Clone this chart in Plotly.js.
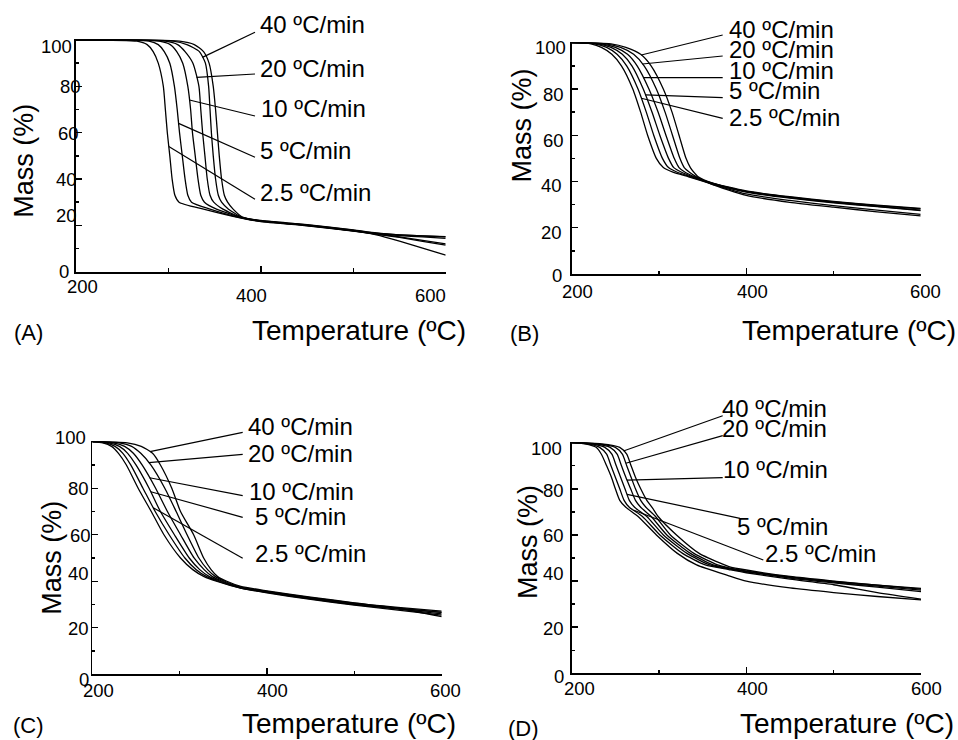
<!DOCTYPE html>
<html>
<head>
<meta charset="utf-8">
<script src="https://cdn.plot.ly/plotly-3.0.1.min.js"></script>
<style>html,body{margin:0;padding:0;background:#fff;}</style>
</head>
<body>
<div id="chart" style="width:958px;height:740px;"></div>
<script>
// ---------------- data ----------------
const rateLabels = ['2.5 ºC/min', '5 ºC/min', '10 ºC/min', '20 ºC/min', '40 ºC/min'];
const massTicks = [0, 20, 40, 60, 80, 100];
const tempTicks = [200, 400, 600];
const panelTags = ['(A)', '(B)', '(C)', '(D)'];

// Panel A: temperature (ºC) at which each curve reaches the mass levels, then tail mass at fixed temperatures
const levelsA = [100, 99.5, 98, 95, 90, 80, 70, 60, 50, 40, 33, 30, 27];
const stepA1 = [200, 266, 277, 283.5, 289, 294.5, 296.7, 298.8, 301.5, 304, 307, 311.5, 338];
const stepA2 = [200, 279, 289, 295.5, 301.5, 306.5, 309.5, 312, 315, 318, 321, 325, 345];
const stepA3 = [200, 290, 302, 309, 315.5, 321, 324, 326, 329, 332, 335, 339, 352];
const stepA4 = [200, 297, 310, 318, 326.5, 333, 335, 337, 339.5, 342, 345, 349, 359];
const stepA5 = [200, 305, 320, 333.5, 340, 343.5, 345, 346.5, 348.5, 351, 354, 357.5, 365];
const stepA6 = [200, 312, 328, 338, 344, 348.5, 351, 353, 355, 357.5, 360.5, 364, 370];
const tailTempA = [380, 400, 450, 500, 525, 550, 575, 600];
const tailA1 = [23.0, 21.6, 19.8, 17.5, 16.2, 15.0, 13.5, 12.0];
const tailA2 = [23.1, 21.8, 20.0, 17.7, 16.4, 15.6, 15.0, 14.4];
const tailA3 = [23.3, 22.0, 20.2, 17.9, 16.6, 15.9, 15.5, 15.1];
const tailA4 = [23.2, 21.8, 19.9, 17.6, 16.2, 14.8, 13.1, 11.5];
const tailA5 = [23.4, 21.9, 20.0, 17.6, 15.9, 13.2, 10.2, 7.2];
const tailA6 = [23.6, 22.1, 20.3, 18.0, 16.7, 15.9, 15.4, 15.0];

// Panel B
const levelsB = [100, 99.5, 98, 95, 90, 80, 70, 60, 50, 46, 44, 42];
const stepB1 = [200, 222, 234, 246, 257, 270, 279, 287, 297, 305, 316, 334];
const stepB2 = [200, 226, 240, 252, 263, 276, 285.5, 294, 304, 311, 321, 337];
const stepB3 = [200, 230, 245, 258, 269, 282, 292, 301, 311, 317, 326, 339];
const stepB4 = [200, 234, 250, 264, 275, 288.5, 299, 308, 317.5, 323, 330, 341];
const stepB5 = [200, 239, 256, 271, 283, 297, 307, 315.5, 324, 329, 335, 343];
const stepB6 = [200, 245, 262, 279, 291, 305, 315, 323, 331, 336, 340, 345];
const tailTempB = [360, 400, 450, 500, 550, 600];
const tailB1 = [39.0, 34.6, 31.8, 29.6, 27.6, 25.8];
const tailB2 = [39.2, 35.4, 32.8, 30.8, 29.1, 27.4];
const tailB3 = [39.4, 35.7, 33.2, 31.2, 29.6, 28.2];
const tailB4 = [39.3, 35.6, 33.0, 31.0, 29.3, 27.6];
const tailB5 = [38.9, 34.0, 31.0, 28.9, 26.9, 25.1];
const tailB6 = [39.5, 35.9, 33.4, 31.4, 29.8, 28.4];

// Panel C
const levelsC = [100, 99.5, 98, 95, 90, 80, 70, 60, 50, 45, 42, 40];
const stepC1 = [200, 212, 222, 230, 239, 252.5, 267.5, 282, 301, 315, 328, 342];
const stepC2 = [200, 215, 226, 235, 244, 258, 272, 288, 306, 319, 331, 344];
const stepC3 = [200, 219, 231, 240.5, 250, 265, 278, 294, 311, 323, 334, 346.5];
const stepC4 = [200, 224, 237, 247, 257, 272.5, 286, 301, 316.5, 328, 337.5, 349];
const stepC5 = [200, 231, 245, 255.5, 267, 283, 296, 308.5, 322, 332, 341, 351.5];
const stepC6 = [200, 240, 256, 269, 278, 291, 301, 316, 327.5, 336, 343.5, 354];
const tailTempC = [370, 400, 450, 500, 550, 600];
const tailC1 = [37.0, 35.0, 32.2, 29.8, 27.6, 25.4];
const tailC2 = [37.1, 35.2, 32.4, 30.0, 28.0, 26.0];
const tailC3 = [37.3, 35.4, 32.7, 30.3, 28.4, 26.6];
const tailC4 = [37.2, 35.3, 32.6, 30.2, 28.3, 26.6];
const tailC5 = [37.5, 35.6, 33.0, 30.6, 28.8, 27.2];
const tailC6 = [37.8, 35.9, 33.2, 30.7, 28.4, 24.8];

// Panel D
const levelsD = [100, 99.5, 98, 95, 90, 85, 80, 75, 72, 68, 60, 52, 47];
const stepD1 = [200, 215, 228, 234, 240, 245.5, 250, 255, 262, 276, 297, 321, 343];
const stepD2 = [200, 218, 232, 240, 245, 250, 255, 260, 266, 281, 301, 327, 353];
const stepD3 = [200, 222, 238, 246, 251, 256, 261, 266, 272, 286, 305, 332, 358];
const stepD4 = [200, 226, 244, 252, 257, 262, 267.5, 273, 279, 291, 309, 336, 362];
const stepD5 = [200, 230, 250, 258, 263, 268, 273, 279, 285, 296, 313, 340, 367];
const stepD6 = [200, 234, 255, 263, 268, 273, 279, 286, 292, 299, 320, 346, 375];
const tailTempD = [380, 400, 450, 500, 550, 600];
const tailD1 = [42.3, 40.0, 37.0, 35.0, 33.3, 31.8];
const tailD2 = [45.0, 43.6, 40.8, 38.4, 35.0, 32.2];
const tailD3 = [45.3, 44.0, 41.3, 39.2, 37.4, 35.4];
const tailD4 = [45.5, 44.2, 41.6, 39.6, 37.8, 36.1];
const tailD5 = [45.7, 44.3, 41.8, 39.8, 38.2, 36.8];
const tailD6 = [46.3, 44.8, 42.0, 40.0, 38.2, 36.5];

// ---------------- layout geometry (pixels) ----------------
const W = 958, H = 740;
const FONT = 'Arial, "Liberation Sans", Helvetica, sans-serif';
const Y_TOP = 100.5; // a little head-room so the 100 % plateau is not clipped

const panels = [
  { // A
    frame: {left: 76, right: 445.7, y0: 271.7, y100: 40},
    levels: levelsA, steps: [stepA1, stepA2, stepA3, stepA4, stepA5, stepA6],
    tailTemp: tailTempA, tails: [tailA1, tailA2, tailA3, tailA4, tailA5, tailA6],
    anchors: [{c: 0, m: 54}, {c: 1, m: 64}, {c: 2, m: 74.1}, {c: 3, m: 83.9}, {c: 4, m: 92.5}],
    labelX: [259, 259, 260, 259, 259], labelY: [192.7, 150, 109, 68.3, 25],
    leadEnd: [[255, 199.3], [255, 157.3], [255, 116], [255, 74], [255, 32.3]],
    yTickRight: [70, 78.3, 78.3, 80, 81.7, 72.7], yTickY: [271.7, 215, 179.3, 133, 86.7, 46],
    xTickX: [82.5, 251, 430], xTickY: [286.7, 295, 295],
    massTitle: [24, 160.8], tempTitle: [359, 330], tag: [28.8, 332]
  },
  { // B
    frame: {left: 571.7, right: 920.7, y0: 274, y100: 42.7},
    levels: levelsB, steps: [stepB1, stepB2, stepB3, stepB4, stepB5, stepB6],
    tailTemp: tailTempB, tails: [tailB1, tailB2, tailB3, tailB4, tailB5, tailB6],
    anchors: [{c: 1, m: 76}, {c: 2, m: 77.4}, {c: 3, m: 84.9}, {c: 4, m: 90.8}, {c: 5, m: 94.7}],
    labelX: [728.3, 728.3, 728.3, 728.3, 728.3], labelY: [117.3, 90.7, 70.7, 50, 29.3],
    leadEnd: [[722.7, 118.3], [722.7, 97.7], [722.7, 77.7], [722.7, 56], [722.7, 35]],
    yTickRight: [563.3, 563.3, 563.3, 565, 565, 567.3], yTickY: [275, 232.3, 185.7, 140, 94, 47.7],
    xTickX: [577.5, 752.5, 925.8], xTickY: [291.7, 291.7, 291.7],
    massTitle: [521.7, 125.8], tempTitle: [849.2, 330], tag: [524, 333.3]
  },
  { // C
    frame: {left: 92.3, right: 441.7, y0: 674.3, y100: 441.7},
    levels: levelsC, steps: [stepC1, stepC2, stepC3, stepC4, stepC5, stepC6],
    tailTemp: tailTempC, tails: [tailC1, tailC2, tailC3, tailC4, tailC5, tailC6],
    anchors: [{c: 1, m: 71.6}, {c: 2, m: 78.5}, {c: 3, m: 84.5}, {c: 4, m: 91}, {c: 5, m: 95.7}],
    labelX: [254, 254, 248.3, 247.3, 247.3], labelY: [553.3, 516.7, 491, 453.3, 426.7],
    leadEnd: [[242.7, 558.3], [242.7, 517.3], [242.7, 495.7], [242.7, 454.3], [242.7, 432.3]],
    yTickRight: [90, 90, 90, 91.7, 90, 87.3], yTickY: [679, 628.3, 573.3, 535, 488.3, 437.7],
    xTickX: [98, 272.5, 445.8], xTickY: [690, 690, 690],
    massTitle: [52.5, 558.3], tempTitle: [349.2, 723.3], tag: [28.3, 725]
  },
  { // D
    frame: {left: 571.7, right: 921, y0: 673.3, y100: 442.7},
    levels: levelsD, steps: [stepD1, stepD2, stepD3, stepD4, stepD5, stepD6],
    tailTemp: tailTempD, tails: [tailD1, tailD2, tailD3, tailD4, tailD5, tailD6],
    anchors: [{c: 1, m: 70.8}, {c: 2, m: 77.6}, {c: 3, m: 83.8}, {c: 4, m: 91.1}, {c: 5, m: 96.4}],
    labelX: [764, 735.7, 722.3, 720.7, 720.7], labelY: [553.3, 526.7, 470, 428.3, 408.3],
    leadEnd: [[763.3, 560], [740, 518.3], [722.7, 477.7], [722.7, 435.7], [722.7, 415.7]],
    yTickRight: [565, 565, 565, 565, 565, 563.3], yTickY: [676.7, 628.3, 573.3, 535, 490, 448.3],
    xTickX: [579, 752.5, 926.7], xTickY: [688.3, 688.3, 688.3],
    massTitle: [527.5, 542.5], tempTitle: [846.7, 723.3], tag: [523.3, 728.3]
  }
];

const px = v => v / W;
const py = v => 1 - v / H;

function axisStyle(extra) {
  return Object.assign({
    showline: true, linecolor: '#000', linewidth: 1.8, mirror: false,
    showgrid: false, zeroline: false, showticklabels: false,
    ticks: 'inside', ticklen: 6, tickwidth: 1.4, tickcolor: '#000',
    fixedrange: true
  }, extra);
}

// temperature at which curve k of a panel crosses mass level m (along its decomposition step)
function tempAtMass(p, k, m) {
  const lv = p.levels, st = p.steps[k];
  for (let i = 0; i < lv.length - 1; i++) {
    if (lv[i] >= m && m >= lv[i + 1]) {
      return st[i] + (m - lv[i]) / (lv[i + 1] - lv[i]) * (st[i + 1] - st[i]);
    }
  }
  return st[st.length - 1];
}

const traces = [];
const annotations = [];
const shapes = [];
const layout = {
  width: W, height: H,
  margin: {l: 0, r: 0, t: 0, b: 0, pad: 0},
  paper_bgcolor: '#fff', plot_bgcolor: 'rgba(0,0,0,0)',
  showlegend: false,
  font: {family: FONT, color: '#000'}
};

function textNote(x, y, text, size, xanchor, extra) {
  return Object.assign({
    xref: 'paper', yref: 'paper', x: px(x), y: py(y),
    xanchor: xanchor, yanchor: 'middle', showarrow: false, borderpad: 0,
    text: text, font: {family: FONT, size: size, color: '#000'}
  }, extra || {});
}

panels.forEach((p, idx) => {
  const n = idx === 0 ? '' : String(idx + 1);
  const f = p.frame;
  const unit = (f.y0 - f.y100) / 100;
  const yTopPx = f.y0 - Y_TOP * unit;
  const xDom = [px(f.left), px(f.right)];
  const yDom = [py(f.y0), py(yTopPx)];

  layout['xaxis' + n] = axisStyle({
    domain: xDom, range: [200, 600], anchor: 'y' + n,
    tickmode: 'array', tickvals: tempTicks,
    minor: {dtick: 100, tick0: 200, ticks: 'inside', ticklen: 3.5, tickwidth: 1.4, tickcolor: '#000', showgrid: false}
  });
  layout['yaxis' + n] = axisStyle({
    domain: yDom, range: [0, Y_TOP], anchor: 'x' + n,
    tickmode: 'array', tickvals: massTicks,
    minor: {dtick: 10, tick0: 0, ticks: 'inside', ticklen: 3, tickwidth: 1.4, tickcolor: '#000', showgrid: false}
  });

  // TGA curves
  p.steps.forEach((st, k) => {
    traces.push({
      type: 'scatter', mode: 'lines',
      x: st.concat(p.tailTemp),
      y: p.levels.concat(p.tails[k]),
      xaxis: 'x' + n, yaxis: 'y' + n,
      line: {color: '#000', width: 1.3, shape: 'spline', smoothing: 0.6},
      hoverinfo: 'skip'
    });
  });

  // heating-rate labels with leader lines
  rateLabels.forEach((txt, j) => {
    annotations.push(textNote(p.labelX[j], p.labelY[j], txt, 24, 'left'));
    const a = p.anchors[j];
    const T = tempAtMass(p, a.c, a.m);
    const x0 = xDom[0] + (T - 200) / 400 * (xDom[1] - xDom[0]);
    const y0 = yDom[0] + a.m / Y_TOP * (yDom[1] - yDom[0]);
    shapes.push({
      type: 'line', xref: 'paper', yref: 'paper',
      x0: x0, y0: y0, x1: px(p.leadEnd[j][0]), y1: py(p.leadEnd[j][1]),
      line: {color: '#000', width: 1.2}
    });
  });

  // tick labels
  massTicks.forEach((v, j) => {
    annotations.push(textNote(p.yTickRight[j], p.yTickY[j], String(v), 18.5, 'right'));
  });
  tempTicks.forEach((v, j) => {
    annotations.push(textNote(p.xTickX[j], p.xTickY[j], String(v), 18.5, 'center'));
  });

  // axis titles and panel tag
  annotations.push(textNote(p.massTitle[0], p.massTitle[1], 'Mass (%)', 27, 'center', {textangle: -90}));
  annotations.push(textNote(p.tempTitle[0], p.tempTitle[1], 'Temperature (ºC)', 28, 'center'));
  annotations.push(textNote(p.tag[0], p.tag[1], panelTags[idx], 22, 'center'));
});

layout.annotations = annotations;
layout.shapes = shapes;

Plotly.newPlot('chart', traces, layout, {staticPlot: true, displayModeBar: false});
</script>
</body>
</html>
